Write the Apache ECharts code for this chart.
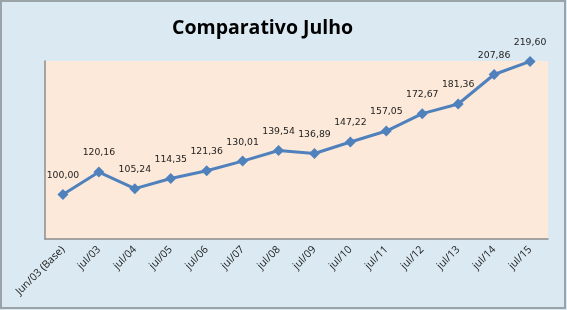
<!DOCTYPE html>
<html><head><meta charset="utf-8">
<script src="https://cdn.jsdelivr.net/npm/echarts@6/dist/echarts.min.js"></script>
<style>html,body{margin:0;padding:0;background:#dbeaf2}#c{width:567px;height:310px}</style>
</head><body><div id="c"></div>
<script>
const categories = ["Jun/03 (Base)","jul/03","jul/04","jul/05","jul/06","jul/07","jul/08","jul/09","jul/10","jul/11","jul/12","jul/13","jul/14","jul/15"];
const values = [100.00,120.16,105.24,114.35,121.36,130.01,139.54,136.89,147.22,157.05,172.67,181.36,207.86,219.60];
const titleText = "Comparativo Julho";
const chart = echarts.init(document.getElementById('c'));
chart.setOption({
  backgroundColor: '#dbeaf2',
  animation: false,
  title: {text: titleText, left: 167, top: 13,
    textStyle: {fontFamily: 'Open Sans', fontWeight: 'bold', fontSize: 19.5, color: '#000'}},
  graphic: [{type: 'rect', shape: {x: 1, y: 1, width: 564, height: 307},
    style: {fill: 'none', stroke: '#9aa3a8', lineWidth: 2}, silent: true}],
  grid: {left: 45, right: 19, top: 61, bottom: 71, show: true, backgroundColor: '#fde9d9', borderWidth: 0},
  xAxis: {type: 'category', data: categories, boundaryGap: true,
    axisLine: {lineStyle: {color: '#8c8c8c', width: 1.5}},
    axisTick: {show: false},
    axisLabel: {rotate: 45, interval: 0, fontFamily: 'Open Sans', fontSize: 10.5, color: '#1a1a1a', margin: 9}},
  yAxis: {type: 'value', min: 60, max: 220, interval: 20, show: true,
    axisLine: {show: true, lineStyle: {color: '#8c8c8c', width: 1.5}},
    axisLabel: {show: false}, axisTick: {show: false}, splitLine: {show: false}},
  series: [{type: 'line', data: values, symbol: 'diamond', symbolSize: 11,
    lineStyle: {color: '#4f81bd', width: 3}, itemStyle: {color: '#4f81bd'},
    label: {show: true, position: 'top', distance: 9, fontFamily: 'DejaVu Sans', fontSize: 9.3, color: '#222',
      formatter: p => p.value.toFixed(2).replace('.', ',')}}]
});
</script></body></html>
